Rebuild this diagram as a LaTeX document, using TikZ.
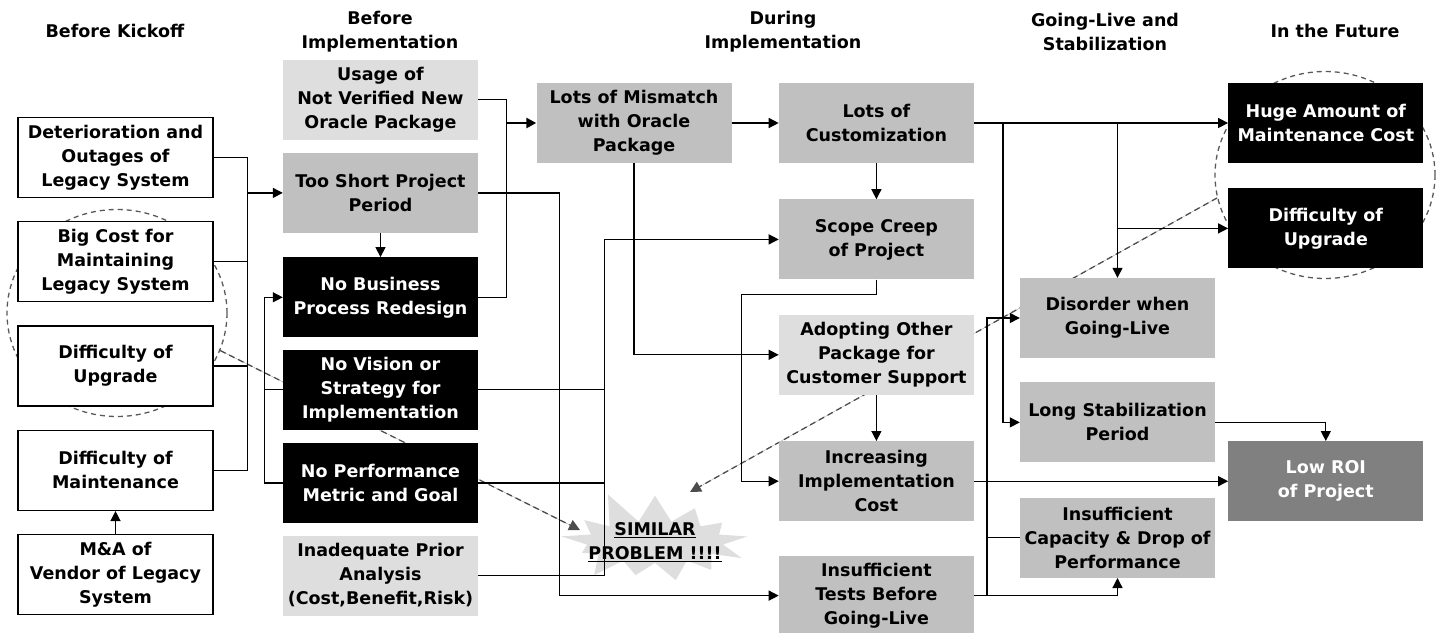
\documentclass[tikz,border=0pt]{standalone}
\usepackage{fontspec}
\setmainfont{DejaVu Sans}
\usetikzlibrary{arrows.meta, positioning, shapes.geometric, shapes.symbols, backgrounds}
\definecolor{lgray}{RGB}{222,222,222}
\definecolor{mgray}{RGB}{192,192,192}
\definecolor{dgray}{RGB}{128,128,128}
\definecolor{burst}{RGB}{222,222,222}

\begin{document}
\begin{tikzpicture}[
		x=1pt, y=-1pt,
		font=\fontsize{17.5}{24}\selectfont\bfseries,
		b/.style={align=center, minimum width=195pt, minimum height=80pt, inner sep=0pt},
		wbox/.style={b, draw, line width=1.3pt, fill=white},
		lbox/.style={b, fill=lgray},
		gbox/.style={b, fill=mgray},
		kbox/.style={b, fill=black, text=white},
		dbox/.style={b, fill=dgray, text=white},
		hd/.style={align=center},
		ln/.style={line width=1.3pt},
		arr/.style={-{Triangle[length=10pt, width=10pt]}, line width=1.3pt},
		darr/.style={-{Triangle[length=11pt, width=11pt]}, dash pattern=on 6pt off 4pt, line width=1.3pt, draw=black!70, fill=black},
		ring/.style={ellipse, draw=black!65, dash pattern=on 5pt off 4pt, line width=1.3pt, minimum width=220pt, minimum height=207pt, inner sep=0pt}
		]
		\useasboundingbox (0,0) rectangle (1440,632);
		
		% phase headers
		\node[hd] (h1) at (115,31) {Before Kickoff};
		\node[hd] (h2) at (380,32) {Before\\Implementation};
		\node[hd] (h3) at (783,32) {During\\Implementation};
		\node[hd] (h4) at (1105,32) {Going-Live and\\Stabilization};
		\node[hd] (h5) at (1335,31) {In the Future};
		
		% before kickoff
		\node[wbox] (det) at (115.5,157.5) {Deterioration and\\Outages of\\Legacy System};
		\node[wbox, below=23pt of det] (bigcost) {Big Cost for\\Maintaining\\Legacy System};
		\node[wbox, below=23pt of bigcost] (upg1) {Difficulty of\\Upgrade};
		\node[wbox, below=23pt of upg1] (maint) {Difficulty of\\Maintenance};
		\node[wbox, below=23pt of maint] (mna) {M\&A of\\Vendor of Legacy\\System};
		
		% before implementation
		\node[lbox] (usage) at (380.5,99.5) {Usage of\\Not Verified New\\Oracle Package};
		\node[gbox, below=13pt of usage] (short) {Too Short Project\\Period};
		\node[kbox, below=24pt of short] (nobpr) {No Business\\Process Redesign};
		\node[kbox, below=12pt of nobpr] (novis) {No Vision or\\Strategy for\\Implementation};
		\node[kbox, below=13pt of novis] (noperf) {No Performance\\Metric and Goal};
		\node[lbox, below=12pt of noperf] (inadeq) {Inadequate Prior\\Analysis\\(Cost,Benefit,Risk)};
		
		% during implementation
		\node[gbox] (mismatch) at (634,123) {Lots of Mismatch\\with Oracle\\Package};
		\node[gbox, right=47pt of mismatch] (custom) {Lots of\\Customization};
		\node[gbox, below=36pt of custom] (scope) {Scope Creep\\of Project};
		\node[lbox, below=35pt of scope] (adopt) {Adopting Other\\Package for\\Customer Support};
		\node[gbox, below=46pt of adopt] (incr) {Increasing\\Implementation\\Cost};
		\node[gbox, below=34pt of incr] (tests) {Insufficient\\Tests Before\\Going-Live};
		
		% going-live and stabilization
		\node[gbox] (disorder) at (1117.5,318) {Disorder when\\Going-Live};
		\node[gbox, below=24pt of disorder] (longstab) {Long Stabilization\\Period};
		\node[gbox, below=35pt of longstab] (capacity) {Insufficient\\Capacity \& Drop of\\Performance};
		
		% in the future
		\node[kbox, right=254pt of custom] (huge) {Huge Amount of\\Maintenance Cost};
		\node[kbox, below=25pt of huge] (upg2) {Difficulty of\\Upgrade};
		\node[dbox, right=254pt of incr] (lowroi) {Low ROI\\of Project};
		
		\node[starburst, fill=burst, inner sep=0pt, minimum width=205pt, minimum height=110pt,
			starburst points=13, starburst point height=34pt, random starburst=11,
			label={[align=center, inner sep=0pt]center:\underline{SIMILAR}\\\underline{PROBLEM !!!!}}] (sim) at (655,542) {};
		
		% bus points
		\coordinate (kick) at ([xshift=-35pt]short.west);
		\coordinate (vis) at ([xshift=-18pt]nobpr.west);
		\coordinate (ora) at ([xshift=-30pt]mismatch.west);
		\coordinate (creep) at ([xshift=-174pt]scope.west);
		\coordinate (live) at ([xshift=13pt]tests.east);
		
		\draw[ln] (det.east) -| (kick);
		\draw[ln] (maint.east) -| (kick);
		\draw[ln] (bigcost.east) -- (bigcost.east -| kick);
		\draw[ln] (upg1.east) -- (upg1.east -| kick);
		\draw[arr] (kick) -- (short.west);
		\draw[arr] (mna) -- (maint);
		
		\draw[arr] (short) -- (nobpr);
		\draw[ln] (noperf.west) -| (vis);
		\draw[ln] (novis.west) -- (novis.west -| vis);
		\draw[arr] (vis) -- (nobpr.west);
		
		\draw[ln] (usage.east) -| (ora);
		\draw[ln] (nobpr.east) -| (ora);
		\draw[arr, line width=2.6pt] (ora) -- (mismatch.west);
		
		\draw[arr] (short.east) -- ++(81,0) |- (tests.west);
		
		\draw[ln] (inadeq.east) -| (creep);
		\draw[ln] (novis.east) -- (novis.east -| creep);
		\draw[ln] (noperf.east) -- (noperf.east -| creep);
		\draw[arr] (creep) -- (scope.west);
		
		\draw[arr] (mismatch) -- (custom);
		\draw[arr] (mismatch.south) |- (adopt.west);
		\draw[arr] (custom) -- (scope);
		\draw[arr] (scope.south) -- ++(0,15) -| ([xshift=-37pt]incr.west) -- (incr.west);
		\draw[arr] (adopt) -- (incr);
		
		\draw[arr] (custom) -- (huge);
		\draw[arr] (custom.east) -- ++(29,0) |- (longstab.west);
		\draw[arr] (custom.east -| disorder.north) -- (disorder.north);
		\draw[arr] (disorder.north |- upg2.west) -- (upg2.west);
		
		\draw[arr] (incr) -- (lowroi);
		\draw[arr] (longstab.east) -| (lowroi.north);
		\draw[arr] (tests.east) -| (capacity.south);
		\draw[arr] (live) |- (disorder.west);
		\draw[ln] (capacity.west) -- (capacity.west -| live);
		
		\begin{scope}[on background layer]
			\node[ring] (circL) at (117,313) {};
			\node[ring] (circR) at (1325,175) {};
			\draw[darr] (circL.-20) -- ([shift={(-75,-12)}]sim.center);
			\draw[darr] (circR.192) -- ([shift={(35,-50)}]sim.center);
		\end{scope}
	\end{tikzpicture}
\end{document}
